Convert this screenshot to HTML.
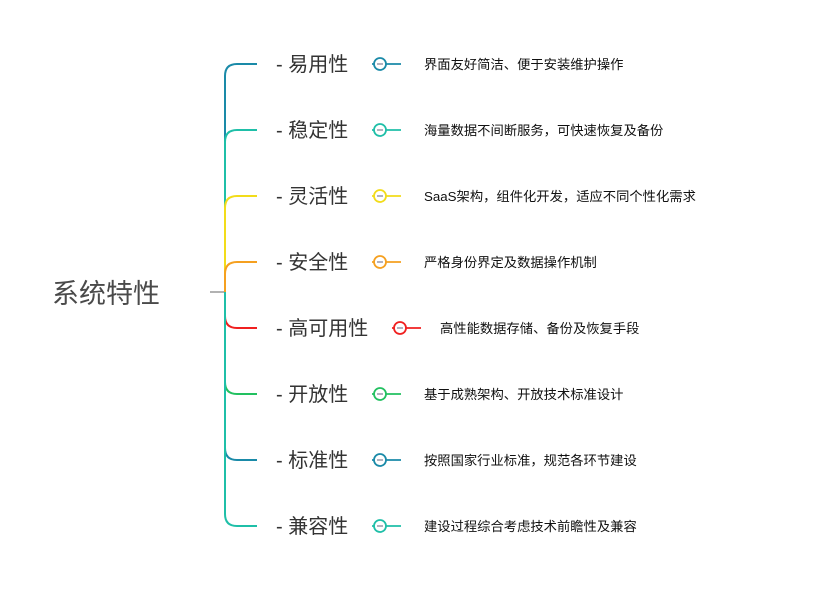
<!DOCTYPE html>
<html><head><meta charset="utf-8"><style>
body{margin:0;background:#fff;width:819px;height:584px;overflow:hidden;font-family:"Liberation Sans","Noto Sans CJK SC",sans-serif}
</style></head><body>
<svg width="819" height="584" viewBox="0 0 819 584" xmlns="http://www.w3.org/2000/svg" style="font-family:'Liberation Sans','Noto Sans CJK SC',sans-serif">
<text x="52" y="303" font-size="27" fill="#4a4a4a">系统特性</text>
<line x1="210" y1="292" x2="225" y2="292" stroke="#999" stroke-width="1.5"/>
<g fill="none" stroke-width="2">
<path d="M225 292V76Q225 64 237 64H257" stroke="#1a8aa8"/>
<path d="M225 292V142Q225 130 237 130H257" stroke="#1fbfa8"/>
<path d="M225 292V208Q225 196 237 196H257" stroke="#f2dc1a"/>
<path d="M225 292V274Q225 262 237 262H257" stroke="#f5a020"/>
<path d="M225 316Q225 328 237 328H257" stroke="#f02020"/>
<path d="M225 382Q225 394 237 394H257" stroke="#22c060"/>
<path d="M225 448Q225 460 237 460H257" stroke="#1a8aa8"/>
<path d="M225 514Q225 526 237 526H257M225 292V514" stroke="#1fbfa8"/>
</g>
<g font-size="20" fill="#333">
<text x="276" y="71">- 易用性</text>
<text x="276" y="137">- 稳定性</text>
<text x="276" y="203">- 灵活性</text>
<text x="276" y="269">- 安全性</text>
<text x="276" y="335">- 高可用性</text>
<text x="276" y="401">- 开放性</text>
<text x="276" y="467">- 标准性</text>
<text x="276" y="533">- 兼容性</text>
</g>
<g stroke-width="1.8" fill="#fff">
<g stroke="#1a8aa8"><line x1="372" y1="64" x2="401" y2="64"/><circle cx="380" cy="64" r="6"/></g>
<g stroke="#1fbfa8"><line x1="372" y1="130" x2="401" y2="130"/><circle cx="380" cy="130" r="6"/></g>
<g stroke="#f2dc1a"><line x1="372" y1="196" x2="401" y2="196"/><circle cx="380" cy="196" r="6"/></g>
<g stroke="#f5a020"><line x1="372" y1="262" x2="401" y2="262"/><circle cx="380" cy="262" r="6"/></g>
<g stroke="#f02020"><line x1="392" y1="328" x2="421" y2="328"/><circle cx="400" cy="328" r="6"/></g>
<g stroke="#22c060"><line x1="372" y1="394" x2="401" y2="394"/><circle cx="380" cy="394" r="6"/></g>
<g stroke="#1a8aa8"><line x1="372" y1="460" x2="401" y2="460"/><circle cx="380" cy="460" r="6"/></g>
<g stroke="#1fbfa8"><line x1="372" y1="526" x2="401" y2="526"/><circle cx="380" cy="526" r="6"/></g>
</g>
<g stroke="#99a" stroke-width="1.5">
<line x1="377" y1="64" x2="383" y2="64"/><line x1="377" y1="130" x2="383" y2="130"/><line x1="377" y1="196" x2="383" y2="196"/><line x1="377" y1="262" x2="383" y2="262"/><line x1="397" y1="328" x2="403" y2="328"/><line x1="377" y1="394" x2="383" y2="394"/><line x1="377" y1="460" x2="383" y2="460"/><line x1="377" y1="526" x2="383" y2="526"/>
</g>
<g font-size="13.3" fill="#111">
<text x="424" y="69">界面友好简洁、便于安装维护操作</text>
<text x="424" y="135">海量数据不间断服务，可快速恢复及备份</text>
<text x="424" y="201">SaaS架构，组件化开发，适应不同个性化需求</text>
<text x="424" y="267">严格身份界定及数据操作机制</text>
<text x="440" y="333">高性能数据存储、备份及恢复手段</text>
<text x="424" y="399">基于成熟架构、开放技术标准设计</text>
<text x="424" y="465">按照国家行业标准，规范各环节建设</text>
<text x="424" y="531">建设过程综合考虑技术前瞻性及兼容</text>
</g>
</svg>
</body></html>
